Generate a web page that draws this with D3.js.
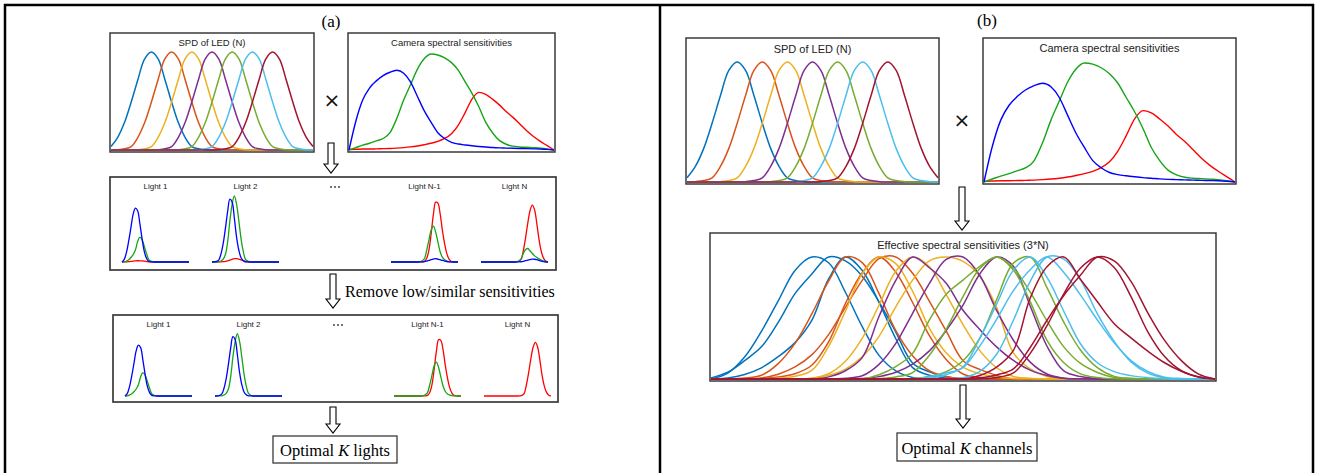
<!DOCTYPE html>
<html>
<head>
<meta charset="utf-8">
<script src="https://cdnjs.cloudflare.com/ajax/libs/d3/7.8.5/d3.min.js"></script>
<style>
  body { margin: 0; background: #fff; }
  svg { display: block; }
</style>
</head>
<body>
<script>
// wavelength grid (nm) shared by every curve
const wavelengths = [400, 410, 420, 430, 440, 450, 460, 470, 480, 490, 500, 510, 520, 530, 540, 550,
                     560, 570, 580, 590, 600, 610, 620, 630, 640, 650, 660, 670, 680, 690, 700];

// camera spectral sensitivities
const camBlue  = [0.00, 0.30, 0.52, 0.645, 0.72, 0.775, 0.81, 0.83, 0.80, 0.71, 0.56, 0.41, 0.29, 0.18, 0.12, 0.08,
                  0.062, 0.052, 0.044, 0.037, 0.032, 0.026, 0.022, 0.020, 0.018, 0.016, 0.014, 0.012, 0.010, 0.006, 0.00];
const camGreen = [0.00, 0.025, 0.05, 0.07, 0.095, 0.12, 0.18, 0.33, 0.52, 0.68, 0.84, 0.95, 1.00, 0.99, 0.96, 0.91,
                  0.83, 0.71, 0.59, 0.45, 0.29, 0.18, 0.10, 0.06, 0.04, 0.032, 0.028, 0.024, 0.020, 0.012, 0.00];
const camRed   = [0.005, 0.008, 0.010, 0.010, 0.012, 0.014, 0.016, 0.020, 0.025, 0.032, 0.042, 0.055, 0.070, 0.090, 0.12, 0.17,
                  0.26, 0.39, 0.53, 0.60, 0.58, 0.53, 0.47, 0.40, 0.34, 0.27, 0.20, 0.14, 0.09, 0.045, 0.00];

// LED spectra: peak wavelengths and relative emission vs. offset from peak
const ledPeaks   = [460, 490, 520, 550, 580, 610, 640];
const ledColors  = ['#0072BD', '#D95319', '#EDB120', '#7E2F8E', '#77AC30', '#4DBEEE', '#A2142F'];
const ledOffsets = [-80, -70, -60, -50, -40, -30, -20, -10, 0, 10, 20, 30, 40, 50, 60, 70, 80];
const ledShape   = [0.003, 0.012, 0.035, 0.13, 0.28, 0.49, 0.72, 0.93, 1.0, 0.93, 0.72, 0.49, 0.28, 0.13, 0.035, 0.012, 0.003];

// single-light examples in panel (a)
const lightLabels   = ['Light 1', 'Light 2', 'Light N-1', 'Light N'];
const lightLed      = [0, 1, 5, 6];
const lightHeadroom = [1.30, 1.06, 1.17, 1.23];
const keptChannels  = [['green', 'blue'], ['green', 'blue'], ['red', 'green'], ['red']];

const camColors = { red: '#ff0000', green: '#16a516', blue: '#0000ff' };
const camCurves = { red: camRed, green: camGreen, blue: camBlue };

const sans = '"Liberation Sans", Arial, sans-serif';
const serif = '"Liberation Serif", "Times New Roman", serif';

const svg = d3.select('body').append('svg').attr('width', 1320).attr('height', 473);

function ledSpd(peak) {
  return wavelengths.map(w => {
    let k = ledOffsets.indexOf(w - peak);
    return k < 0 ? 0 : ledShape[k];
  });
}

function product(a, b) {
  return a.map((v, i) => v * b[i]);
}

function drawCurve(x, y, values, color, width, curve) {
  let line = d3.line()
    .x((d, i) => x(wavelengths[i]))
    .y(d => y(d))
    .curve(curve || d3.curveCatmullRom.alpha(0.5));
  svg.append('path')
    .attr('d', line(values))
    .attr('fill', 'none')
    .attr('stroke', color)
    .attr('stroke-width', width)
    .attr('stroke-linejoin', 'round');
}

function box(x, y, w, h, sw) {
  svg.append('rect')
    .attr('x', x).attr('y', y).attr('width', w).attr('height', h)
    .attr('fill', 'none').attr('stroke', '#3a3a3a').attr('stroke-width', sw || 1.5);
}

function label(x, y, txt, size, family) {
  return svg.append('text')
    .attr('x', x).attr('y', y)
    .attr('text-anchor', 'middle')
    .attr('font-family', family || sans)
    .attr('font-size', size)
    .attr('fill', '#222')
    .text(txt);
}

function arrow(cx, y1, y2) {
  let sw = 3, hw = 7, hl = 9;
  let pts = [[cx - sw, y1], [cx + sw, y1], [cx + sw, y2 - hl], [cx + hw, y2 - hl], [cx, y2],
             [cx - hw, y2 - hl], [cx - sw, y2 - hl]];
  svg.append('path')
    .attr('d', d3.line()(pts) + 'Z')
    .attr('fill', '#fff').attr('stroke', '#000').attr('stroke-width', 1.1);
}

function times(x, y, size) {
  label(x, y, '\u00d7', size, '"DejaVu Sans", sans-serif').attr('fill', '#111');
}

function dots(cx, cy) {
  [-4, 0, 4].forEach(d => svg.append('circle')
    .attr('cx', cx + d).attr('cy', cy).attr('r', 0.9).attr('fill', '#333'));
}

function optimalBox(x, y, w, h, word) {
  box(x, y, w, h, 1.3);
  let t = label(x + w / 2, y + h - 7, '', 16.5, serif).attr('fill', '#000');
  t.append('tspan').text('Optimal ');
  t.append('tspan').attr('font-style', 'italic').text('K');
  t.append('tspan').text(' ' + word);
}

// LED SPD panel
function spdPlot(x0, y0, w, h, yTop, yBase, title, titleY, size) {
  box(x0, y0, w, h);
  label(x0 + w / 2, titleY, title, size);
  let x = d3.scaleLinear().domain([400, 700]).range([x0 + 1, x0 + w - 1]);
  let y = d3.scaleLinear().domain([0, 1]).range([yBase, yTop]);
  ledPeaks.forEach((p, i) => drawCurve(x, y, ledSpd(p), ledColors[i], 1.5));
}

// camera sensitivity panel
function camPlot(x0, y0, w, h, yTop, yBase, title, titleY, size) {
  box(x0, y0, w, h);
  label(x0 + w / 2, titleY, title, size);
  let x = d3.scaleLinear().domain([400, 700]).range([x0 + 1, x0 + w - 1]);
  let y = d3.scaleLinear().domain([0, 1]).range([yBase, yTop]);
  ['red', 'green', 'blue'].forEach(c => drawCurve(x, y, camCurves[c], camColors[c], 1.4, d3.curveMonotoneX));
}

// row of single-light examples
function lightRow(x0, y0, w, h, base, plotH, channelsFor) {
  box(x0, y0, w, h, 1.7);
  let offs = [12, 102, 281, 371];
  lightLabels.forEach((lab, k) => {
    let px = x0 + offs[k];
    label(px + 33.5, y0 + 12, lab, 8);
    let spd = ledSpd(ledPeaks[lightLed[k]]);
    let prods = {};
    ['red', 'green', 'blue'].forEach(c => prods[c] = product(spd, camCurves[c]));
    let m = d3.max(['red', 'green', 'blue'], c => d3.max(prods[c]));
    let x = d3.scaleLinear().domain([400, 700]).range([px, px + 67]);
    let y = d3.scaleLinear().domain([0, m * lightHeadroom[k]]).range([y0 + base, y0 + base - plotH]);
    channelsFor(k).forEach(c => drawCurve(x, y, prods[c], camColors[c], 1.3));
  });
  dots(x0 + 225, y0 + 10);
}

// outer frame
svg.append('rect').attr('x', 5).attr('y', 5).attr('width', 1308).attr('height', 490)
  .attr('fill', 'none').attr('stroke', '#000').attr('stroke-width', 2.5);
svg.append('line').attr('x1', 660).attr('x2', 660).attr('y1', 5).attr('y2', 473)
  .attr('stroke', '#000').attr('stroke-width', 2.5);

// ---------- panel (a)
label(331, 27, '(a)', 17, serif).attr('fill', '#000');
spdPlot(110, 33, 204, 119, 52, 150, 'SPD of LED (N)', 46, 9.5);
times(332, 107, 20);
camPlot(348, 33, 207, 119, 54, 150, 'Camera spectral sensitivities', 46, 9.5);
arrow(331, 143, 173);

lightRow(110, 177, 446, 93, 85, 70, k => ['red', 'green', 'blue']);

arrow(333, 274, 308);
svg.append('text').attr('x', 345).attr('y', 297)
  .attr('font-family', serif).attr('font-size', 16).attr('fill', '#000')
  .text('Remove low/similar sensitivities');

lightRow(113, 315, 445, 87, 81, 66, k => keptChannels[k]);

arrow(333, 407, 433);
optimalBox(273, 436, 124, 27, 'lights');

// ---------- panel (b)
label(987, 26, '(b)', 17, serif).attr('fill', '#000');
spdPlot(686, 38, 253, 146, 62, 182, 'SPD of LED (N)', 53, 11);
times(962, 127, 20);
camPlot(983, 38, 253, 146, 63, 182, 'Camera spectral sensitivities', 52, 11);
arrow(962, 187, 230);

// effective sensitivities: every LED times every camera channel, each normalised
box(710, 233, 506, 148);
label(963, 249, 'Effective spectral sensitivities (3*N)', 11);
{
  let x = d3.scaleLinear().domain([400, 700]).range([711, 1215]);
  let y = d3.scaleLinear().domain([0, 1]).range([379, 257]);
  ledPeaks.forEach((p, i) => {
    let spd = ledSpd(p);
    ['blue', 'green', 'red'].forEach(c => {
      let v = product(spd, camCurves[c]);
      let m = d3.max(v);
      drawCurve(x, y, v.map(d => d / m), ledColors[i], 1.5);
    });
  });
}

arrow(963, 385, 428);
optimalBox(897, 433, 140, 28, 'channels');
</script>
</body>
</html>
